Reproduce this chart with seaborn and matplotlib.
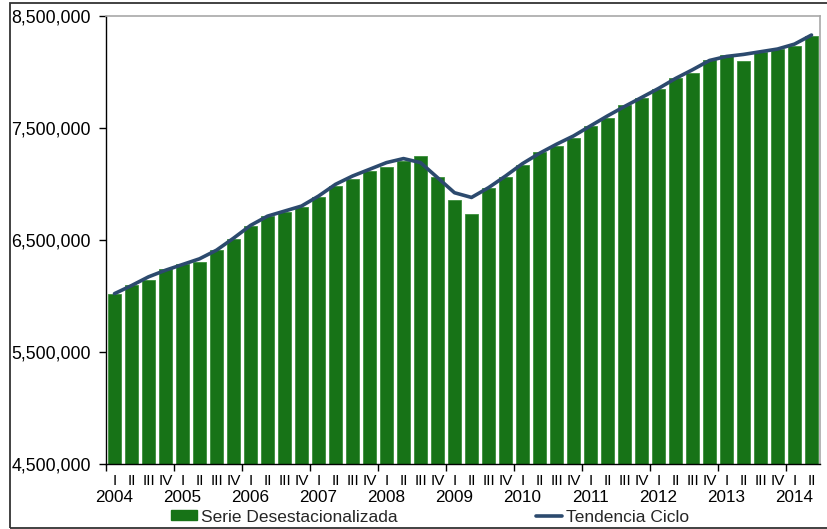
import matplotlib
matplotlib.use("Agg")
import matplotlib.pyplot as plt
import matplotlib.patches as mpatches
import matplotlib.lines as mlines
from matplotlib.ticker import FuncFormatter
import seaborn as sns
import pandas as pd
import numpy as np

years = ["2004", "2005", "2006", "2007", "2008", "2009", "2010", "2011", "2012", "2013", "2014"]
quarters = ["I", "II", "III", "IV"]

serie_desest = [
    6021000, 6102000, 6147000, 6242000,
    6290000, 6301000, 6409000, 6513000,
    6624000, 6710000, 6749000, 6793000,
    6880000, 6979000, 7044000, 7116000,
    7149000, 7209000, 7250000, 7062000,
    6853000, 6731000, 6961000, 7062000,
    7169000, 7283000, 7340000, 7411000,
    7516000, 7590000, 7704000, 7769000,
    7847000, 7948000, 7993000, 8106000,
    8148000, 8097000, 8175000, 8205000,
    8234000, 8324000,
]
tendencia = [
    6021000, 6093000, 6171000, 6230000,
    6281000, 6332000, 6409000, 6516000,
    6630000, 6713000, 6758000, 6803000,
    6892000, 6997000, 7071000, 7131000,
    7191000, 7227000, 7191000, 7057000,
    6922000, 6880000, 6967000, 7071000,
    7182000, 7274000, 7355000, 7429000,
    7519000, 7608000, 7692000, 7772000,
    7853000, 7942000, 8020000, 8103000,
    8139000, 8157000, 8181000, 8205000,
    8249000, 8330000,
]

n = len(serie_desest)
q_labels = [quarters[i % 4] for i in range(n)]

df = pd.DataFrame({"pos": np.arange(n), "serie": serie_desest, "tend": tendencia})

sns.set_style("ticks")
plt.rcParams["font.family"] = ["Liberation Sans", "DejaVu Sans"]

W, H = 827, 529
fig = plt.figure(figsize=(W / 100, H / 100), dpi=100)
ax = fig.add_axes([106 / W, (H - 464) / H, (820 - 106) / W, (464 - 16) / H])

bar_color = "#177317"
line_color = "#2c4a6e"

sns.barplot(data=df, x="pos", y="serie", color=bar_color, saturation=1, width=0.75,
            edgecolor="#3b8f3b", linewidth=0.6, ax=ax, zorder=2)
sns.lineplot(data=df, x="pos", y="tend", color=line_color, linewidth=2.6, ax=ax, zorder=3)

ax.set_xlim(-0.5, n - 0.5)
ax.set_ylim(4500000, 8500000)
ax.set_yticks([4500000, 5500000, 6500000, 7500000, 8500000])
ax.yaxis.set_major_formatter(FuncFormatter(lambda v, p: f"{int(v):,}"))
ax.tick_params(axis="y", direction="out", length=5, width=1, color="black", pad=6,
               labelsize=12.8, labelcolor="black")

ax.set_xticks(np.arange(n))
ax.set_xticklabels(q_labels, fontsize=11)
ax.tick_params(axis="x", which="major", length=0, pad=7, labelcolor="black")
ax.set_xticks(np.arange(-0.5, n, 4), minor=True)
ax.tick_params(axis="x", which="minor", length=5, width=1, color="black", direction="out")

for k, yr in enumerate(years):
    ax.annotate(yr, xy=(4 * k, 0), xycoords=("data", "axes fraction"),
                xytext=(0, -34 * 0.72), textcoords="offset points",
                ha="center", va="center", fontsize=12.3, color="black")

ax.set_xlabel("")
ax.set_ylabel("")
for s in ["left", "bottom"]:
    ax.spines[s].set_color("black")
    ax.spines[s].set_linewidth(1)
for s in ["top", "right"]:
    ax.spines[s].set_visible(True)
    ax.spines[s].set_color("#a8a8a8")
    ax.spines[s].set_linewidth(1.2)
ax.grid(False)

h1 = mpatches.Patch(facecolor=bar_color, edgecolor=bar_color)
h2 = mlines.Line2D([], [], color=line_color, linewidth=2.6)
fig.legend([h1, h2], ["Serie Desestacionalizada", "Tendencia Ciclo"],
           loc="center", bbox_to_anchor=(0.52, 1 - 517 / H), ncol=2, frameon=False,
           fontsize=12.5, handlelength=1.5, handleheight=0.5, handletextpad=0.2,
           columnspacing=8.0, borderpad=0)

frame = mpatches.Rectangle((10 / W, 1.5 / H), 2, (526.5 - 1.5) / H, transform=fig.transFigure,
                           fill=False, edgecolor="#333333", linewidth=1.3)
fig.patches.append(frame)

fig.savefig("out.png", dpi=100)
